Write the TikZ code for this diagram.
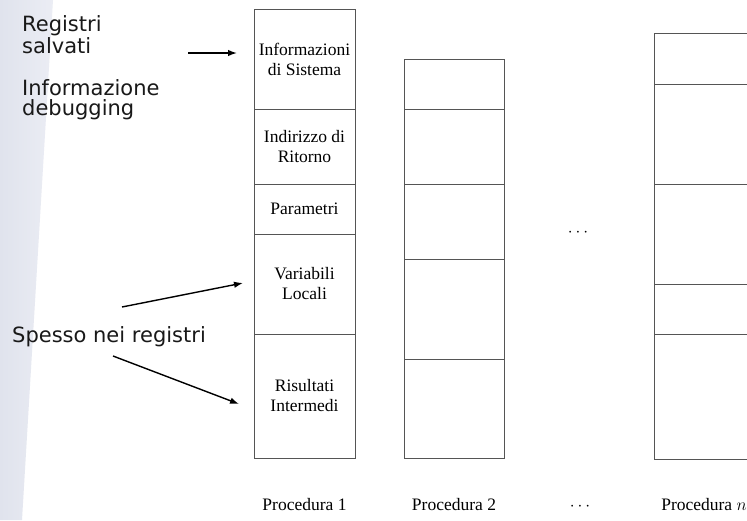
\documentclass[tikz,border=0pt]{standalone}
\usepackage{fontspec}
\setmainfont{Liberation Serif}
\newfontfamily\notefont{DejaVu Sans}
\usetikzlibrary{arrows.meta}

\definecolor{bandL}{RGB}{224,227,237}
\definecolor{bandR}{RGB}{235,237,244}
\definecolor{cellline}{RGB}{85,85,85}
\definecolor{notetext}{RGB}{25,25,25}

\tikzset{
  cell/.style={draw=cellline, line width=0.9pt, inner sep=0pt, outer sep=0pt,
    anchor=north west, align=center,
    font=\fontsize{17.5}{20}\selectfont},
  caption/.style={anchor=base, inner sep=0pt, font=\fontsize{17.5}{20}\selectfont},
  note/.style={anchor=base west, inner sep=0pt, align=left, text=notetext,
    font=\notefont\fontsize{21}{19.5}\selectfont},
  pointer/.style={-{Latex[length=9pt,width=6.5pt]}, line width=1.4pt, black},
}

\begin{document}
\begin{tikzpicture}[x=1pt,y=-1pt]
\clip (0,0) rectangle (747,520);
\fill[white] (0,0) rectangle (747,520);

% slanted side band
\shade[left color=bandL, right color=bandR] (0,0) -- (53,0) -- (22,520) -- (0,520) -- cycle;

% stack of procedure 1
\node[cell, minimum width=101pt, minimum height=100pt] (p1a) at (254,9)   {Informazioni\\di Sistema};
\node[cell, minimum width=101pt, minimum height=75pt]  (p1b) at (254,109) {Indirizzo di\\Ritorno};
\node[cell, minimum width=101pt, minimum height=50pt]  (p1c) at (254,184) {Parametri};
\node[cell, minimum width=101pt, minimum height=100pt] (p1d) at (254,234) {Variabili\\Locali};
\node[cell, minimum width=101pt, minimum height=124pt] (p1e) at (254,334) {Risultati\\Intermedi};

% stack of procedure 2
\node[cell, minimum width=100pt, minimum height=50pt]  (p2a) at (404,59)  {};
\node[cell, minimum width=100pt, minimum height=75pt]  (p2b) at (404,109) {};
\node[cell, minimum width=100pt, minimum height=75pt]  (p2c) at (404,184) {};
\node[cell, minimum width=100pt, minimum height=100pt] (p2d) at (404,259) {};
\node[cell, minimum width=100pt, minimum height=99pt]  (p2e) at (404,359) {};

% stack of procedure n
\node[cell, minimum width=101pt, minimum height=51pt]  (pna) at (654,33)  {};
\node[cell, minimum width=101pt, minimum height=100pt] (pnb) at (654,84)  {};
\node[cell, minimum width=101pt, minimum height=100pt] (pnc) at (654,184) {};
\node[cell, minimum width=101pt, minimum height=50pt]  (pnd) at (654,284) {};
\node[cell, minimum width=101pt, minimum height=125pt] (pne) at (654,334) {};

\node[inner sep=0pt, font=\fontsize{17.5}{20}\selectfont] (gap) at (578,233) {$\cdots$};

% captions
\node[caption] (c1) at (304.5,510) {Procedura 1};
\node[caption] (c2) at (454,510)   {Procedura 2};
\node[caption] (cg) at (580,510)   {$\cdots$};
\node[caption] (cn) at (704,510)   {Procedura $n$};

% side notes (anchored on the baseline of their last line)
\node[note] (regs) at (22,53)  {Registri\\salvati};
\node[note] (dbg)  at (22,115) {Informazione\\debugging};
\node[note] (reg2) at (12,342) {Spesso nei registri};

% pointers
\coordinate (a1s) at (188,53);
\coordinate (a1e) at (237,53);
\coordinate (a2s) at (122,307);
\coordinate (a2e) at (243,283);
\coordinate (a3s) at (113,356);
\coordinate (a3e) at (239,404);
\draw[pointer] (a1s) -- (a1e);
\draw[pointer] (a2s) -- (a2e);
\draw[pointer] (a3s) -- (a3e);
\end{tikzpicture}
\end{document}
